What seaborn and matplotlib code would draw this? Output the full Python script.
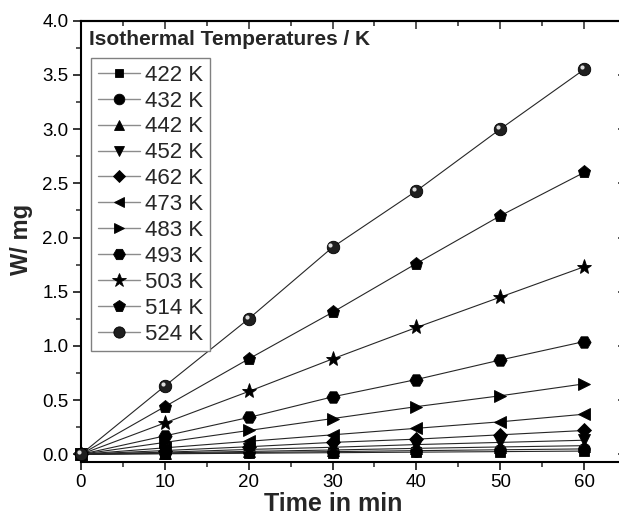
import numpy as np
import pandas as pd
import matplotlib
matplotlib.use("Agg")
import matplotlib.pyplot as plt
import matplotlib.transforms as mtransforms
from matplotlib.lines import Line2D
import seaborn as sns

# ---- data ----
time_min = [0, 10, 20, 30, 40, 50, 60]
temps = ["422 K", "432 K", "442 K", "452 K", "462 K", "473 K",
         "483 K", "493 K", "503 K", "514 K", "524 K"]
w_422 = [0, 0.005, 0.010, 0.015, 0.020, 0.025, 0.030]
w_432 = [0, 0.008, 0.017, 0.025, 0.034, 0.042, 0.050]
w_442 = [0, 0.013, 0.027, 0.040, 0.055, 0.068, 0.080]
w_452 = [0, 0.020, 0.045, 0.065, 0.090, 0.110, 0.130]
w_462 = [0, 0.035, 0.070, 0.110, 0.140, 0.180, 0.220]
w_473 = [0, 0.060, 0.120, 0.180, 0.240, 0.300, 0.370]
w_483 = [0, 0.110, 0.220, 0.330, 0.440, 0.540, 0.650]
w_493 = [0, 0.170, 0.340, 0.530, 0.690, 0.870, 1.040]
w_503 = [0, 0.290, 0.580, 0.880, 1.170, 1.450, 1.730]
w_514 = [0, 0.440, 0.880, 1.310, 1.760, 2.200, 2.600]
w_524 = [0, 0.630, 1.250, 1.910, 2.430, 3.000, 3.550]
series = [w_422, w_432, w_442, w_452, w_462, w_473, w_483, w_493, w_503, w_514, w_524]

markers = ["s", "o", "^", "v", "D", "<", ">", "H", "*", "p", "o"]
msizes = [7, 8.5, 8.5, 8.5, 7, 8.5, 8.5, 9.5, 11, 9.5, 9]

sns.set_style("ticks")
plt.rcParams["font.family"] = ["Liberation Sans", "DejaVu Sans"]

fig = plt.figure(figsize=(6.19, 5.21), dpi=100)
ax = fig.add_axes([81 / 619, (521 - 461.7) / 521, 545 / 619, 441 / 521])

handles = []
for lab, vals, mk, ms in zip(temps, series, markers, msizes):
    df = pd.DataFrame({"t": time_min, "w": vals})
    is_ball = lab == "524 K"
    fc = "0.12" if is_ball else "black"
    sns.lineplot(data=df, x="t", y="w", ax=ax, color="0.15", lw=0.8,
                 marker=mk, markersize=ms, markerfacecolor=fc,
                 markeredgecolor="black", markeredgewidth=0.6,
                 clip_on=False, zorder=3, legend=False)
    h = Line2D([], [], color="0.55", lw=1.0, marker=mk, markersize=ms * 0.9,
               markerfacecolor=fc, markeredgecolor="black", markeredgewidth=0.6)
    if is_ball:
        off = mtransforms.offset_copy(ax.transData, fig=fig, x=-1.5, y=1.5, units="points")
        ax.plot(time_min, vals, ls="none", marker="o", ms=3, mfc="white",
                mec="none", alpha=0.85, transform=off, zorder=4, clip_on=False)
    handles.append(h)

ax.set_xlim(0, 65)
ax.set_ylim(-0.068, 4.0)
ax.set_xticks(np.arange(0, 61, 10))
ax.set_xticks(np.arange(5, 65, 10), minor=True)
ax.set_yticks(np.arange(0, 4.01, 0.5))
ax.set_yticks(np.arange(0.25, 4.0, 0.5), minor=True)
ax.yaxis.set_major_formatter(matplotlib.ticker.FormatStrFormatter("%.1f"))

for sp in ax.spines.values():
    sp.set_linewidth(1.5)
    sp.set_color("black")
ax.spines["right"].set_visible(False)
ax.tick_params(which="major", direction="out", length=6, width=1.1,
               labelsize=13.5, colors="black", pad=3)
ax.tick_params(which="minor", direction="out", length=3.5, width=1.1)

# top / right mirrored ticks pointing inward
top = ax.secondary_xaxis("top")
top.set_xticks(np.arange(0, 61, 10))
top.set_xticks(np.arange(5, 65, 10), minor=True)
top.tick_params(which="major", direction="in", length=6, width=1.1, labeltop=False)
top.tick_params(which="minor", direction="in", length=3.5, width=1.1)
top.spines["top"].set_linewidth(1.5)
right = ax.secondary_yaxis("right")
right.set_yticks(np.arange(0, 4.01, 0.5))
right.set_yticks(np.arange(0.25, 4.0, 0.5), minor=True)
right.tick_params(which="major", direction="in", length=6, width=1.1, labelright=False)
right.tick_params(which="minor", direction="in", length=3.5, width=1.1)
right.spines["right"].set_visible(False)

ax.set_xlabel("Time in min", fontsize=18, fontweight="bold")
ax.set_ylabel("W/ mg", fontsize=17, fontweight="bold")
ax.xaxis.set_label_coords((333 - 81) / 545, -0.068)
ax.yaxis.set_label_coords(-0.088, 0.503)

ax.text(0.015, 0.945, "Isothermal Temperatures / K", transform=ax.transAxes,
        fontsize=15, fontweight="bold", ha="left", va="baseline")

leg = ax.legend(handles, temps, loc="upper left",
                bbox_to_anchor=((91 - 81) / 545, 1 - (58 - 20.7) / 441),
                borderaxespad=0, fontsize=16, frameon=True, fancybox=False,
                edgecolor="0.5", framealpha=1, handlelength=1.9,
                handletextpad=0.25, labelspacing=0.22, borderpad=0.3)
leg.get_frame().set_linewidth(1.0)

fig.savefig("out.png", dpi=100)
